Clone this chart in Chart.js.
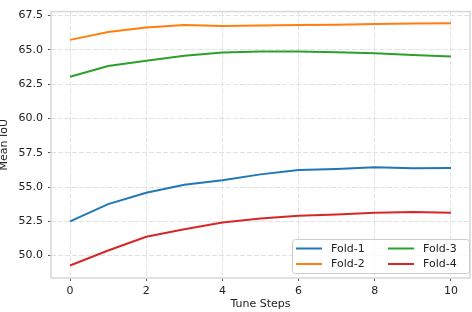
<!DOCTYPE html>
<html>
<head>
<meta charset="utf-8">
<script src="https://cdn.jsdelivr.net/npm/chart.js@4.4.1/dist/chart.umd.min.js"></script>
<style>
  html, body { margin: 0; padding: 0; background: #fff; }
  #wrap { width: 472px; height: 312px; }
</style>
</head>
<body>
<div id="wrap"><canvas id="iouChart"></canvas></div>
<script>
// values
const steps = [0, 1, 2, 3, 4, 5, 6, 7, 8, 9, 10];
const fold1 = [52.5, 53.75, 54.58, 55.16, 55.49, 55.92, 56.24, 56.32, 56.44, 56.36, 56.38];
const fold2 = [65.72, 66.3, 66.62, 66.8, 66.73, 66.77, 66.8, 66.83, 66.88, 66.92, 66.94];
const fold3 = [63.03, 63.82, 64.2, 64.56, 64.8, 64.88, 64.88, 64.82, 64.75, 64.62, 64.5];
const fold4 = [49.28, 50.37, 51.38, 51.92, 52.41, 52.71, 52.9, 53.0, 53.12, 53.18, 53.12];
const foldNames = ['Fold-1', 'Fold-2', 'Fold-3', 'Fold-4'];
const foldColors = ['#1f77b4', '#ff7f0e', '#2ca02c', '#d62728'];
const xTicks = [0, 2, 4, 6, 8, 10];
const yTicks = [50, 52.5, 55, 57.5, 60, 62.5, 65, 67.5];

const FONT = 'DejaVu Sans';
const FS = 11;
const series = [fold1, fold2, fold3, fold4];

// frame + matplotlib-style legend (2 columns, filled column-wise)
const framePlugin = {
    id: 'frameAndLegend',
    afterDatasetsDraw(chart) {
        const ctx = chart.ctx;
        const a = chart.chartArea;
        ctx.save();
        ctx.strokeStyle = '#dadada';
        ctx.lineWidth = 1.6;
        ctx.strokeRect(a.left, a.top, a.right - a.left, a.bottom - a.top);

        // legend box
        const bw = 177, bh = 34;
        const bx = a.right - bw - 1, by = a.bottom - bh - 5;
        ctx.fillStyle = 'rgba(255,255,255,0.8)';
        ctx.strokeStyle = '#cccccc';
        ctx.lineWidth = 1;
        ctx.beginPath();
        ctx.roundRect(bx + 0.5, by + 0.5, bw, bh, 3);
        ctx.fill();
        ctx.stroke();

        ctx.font = FS + 'px "' + FONT + '"';
        ctx.textBaseline = 'middle';
        ctx.textAlign = 'left';
        chart.data.datasets.forEach((ds, i) => {
            const col = Math.floor(i / 2), row = i % 2;
            const lx = bx + 4 + col * 92;
            const ly = by + 9.5 + row * 15.5;
            ctx.strokeStyle = ds.borderColor;
            ctx.lineWidth = 2;
            ctx.beginPath();
            ctx.moveTo(lx, ly);
            ctx.lineTo(lx + 26, ly);
            ctx.stroke();
            ctx.fillStyle = '#222';
            ctx.fillText(ds.label, lx + 35, ly + 0.5);
        });
        ctx.restore();
    }
};

const datasets = series.map((vals, i) => ({
    label: foldNames[i],
    data: vals.map((v, j) => ({ x: steps[j], y: v })),
    borderColor: foldColors[i],
    backgroundColor: foldColors[i],
    borderWidth: 2,
    pointRadius: 0,
    tension: 0,
    fill: false
}));

new Chart(document.getElementById('iouChart'), {
    type: 'line',
    data: { datasets: datasets },
    options: {
        responsive: true,
        maintainAspectRatio: false,
        animation: false,
        layout: { padding: { top: 2, right: 2, left: 0, bottom: 0 } },
        plugins: {
            legend: { display: false },
            tooltip: { enabled: false }
        },
        scales: {
            x: {
                type: 'linear',
                min: -0.5,
                max: 10.5,
                afterBuildTicks: s => { s.ticks = xTicks.map(v => ({ value: v })); },
                afterFit: s => { s.height = 34; },
                grid: { color: '#e2e2e2', lineWidth: 1, drawTicks: true, tickLength: 3, tickColor: '#555', tickWidth: 1 },
                border: { display: false, dash: [5, 2] },
                ticks: { padding: 4, color: '#222', font: { family: FONT, size: FS }, maxRotation: 0 },
                title: { display: true, text: 'Tune Steps', color: '#222', font: { family: FONT, size: FS }, padding: { top: 0, bottom: 1 } }
            },
            y: {
                min: 48.37,
                max: 67.78,
                afterBuildTicks: s => { s.ticks = yTicks.map(v => ({ value: v })); },
                afterFit: s => { s.width = 51; },
                grid: { color: '#e2e2e2', lineWidth: 1, drawTicks: true, tickLength: 3, tickColor: '#555', tickWidth: 1 },
                border: { display: false, dash: [5, 2] },
                ticks: { padding: 5, color: '#222', font: { family: FONT, size: FS }, callback: v => Number(v).toFixed(1) },
                title: { display: true, text: 'Mean IoU', color: '#222', font: { family: FONT, size: FS }, padding: { top: -2, bottom: 0 } }
            }
        }
    },
    plugins: [framePlugin]
});
</script>
</body>
</html>
